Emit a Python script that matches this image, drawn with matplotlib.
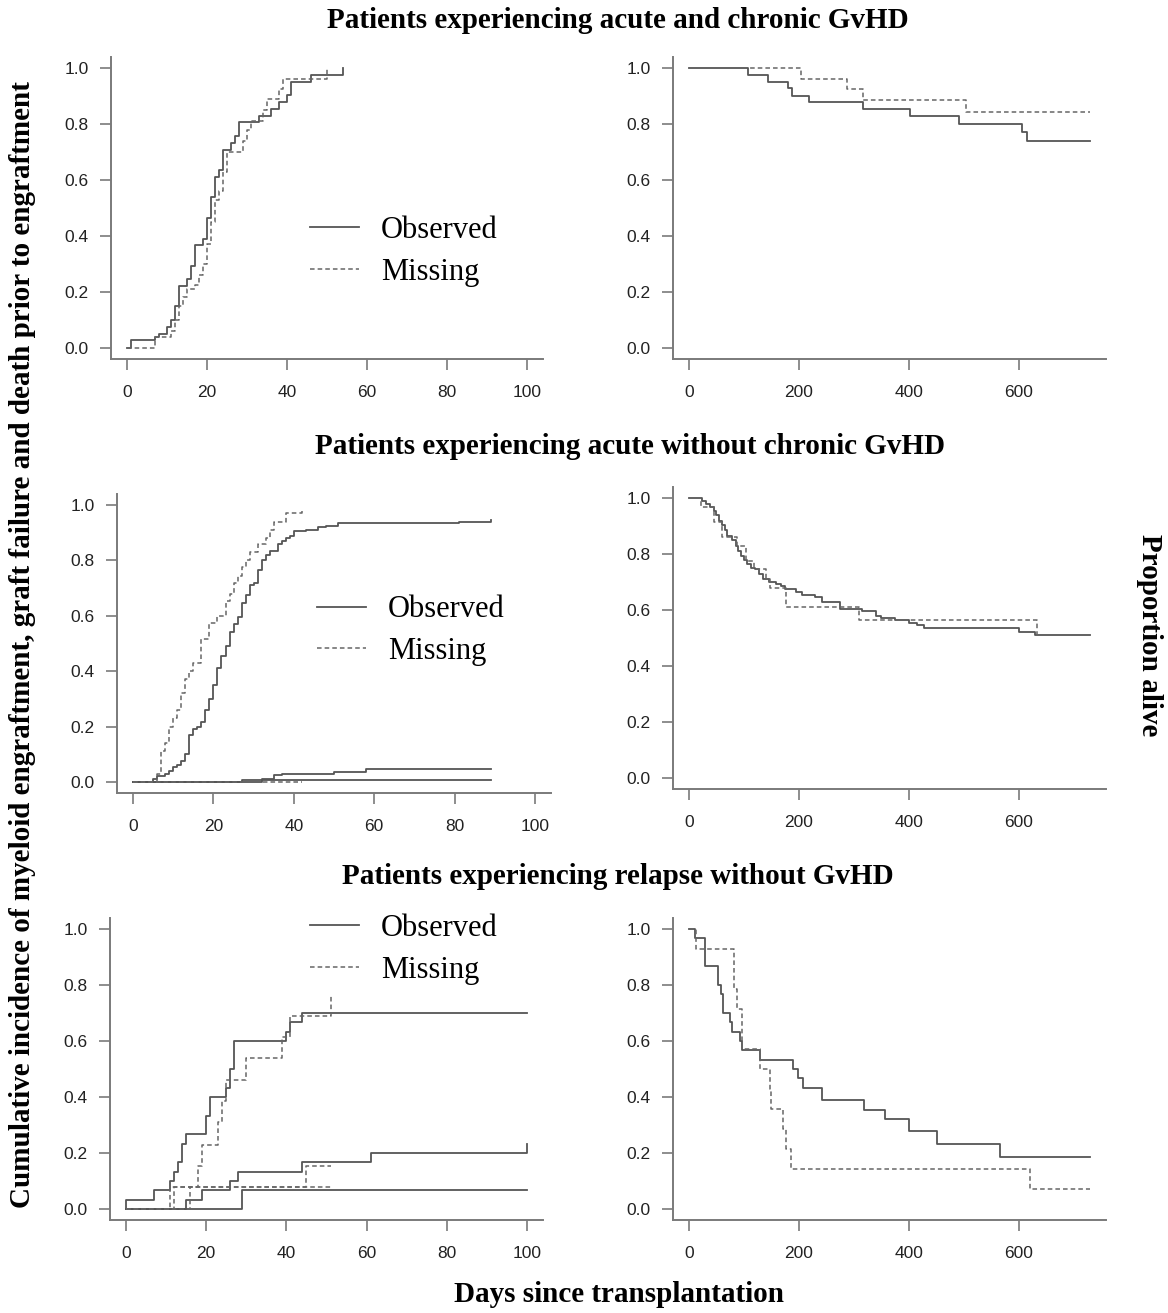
import matplotlib
matplotlib.use("Agg")
import matplotlib.pyplot as plt

# --- data (days, cumulative incidence / survival) ---

# acute and chronic GvHD: engraftment
t1_obs = [0, 1, 7, 8, 10, 11, 12, 13, 15, 16, 17, 19, 20, 21, 22, 23, 24, 26, 27, 28, 33, 36, 38, 40, 41, 46, 54]
y1_obs = [0, 0.027, 0.04, 0.05, 0.075, 0.10, 0.149, 0.22, 0.245, 0.294, 0.369, 0.39, 0.464, 0.538, 0.611,
          0.635, 0.708, 0.732, 0.756, 0.806, 0.83, 0.854, 0.878, 0.903, 0.952, 0.976, 1.0]
t1_mis = [0, 7, 11, 12, 13, 14, 15, 17, 18, 19, 20, 21, 22, 23, 24, 25, 29, 30, 31, 34, 35, 38, 39, 50]
y1_mis = [0, 0.04, 0.06, 0.10, 0.15, 0.18, 0.21, 0.225, 0.26, 0.30, 0.37, 0.45, 0.53, 0.56, 0.63, 0.70,
          0.74, 0.78, 0.81, 0.85, 0.89, 0.925, 0.96, 1.0]

# acute and chronic GvHD: survival
t2_obs = [0, 108, 144, 180, 188, 218, 316, 402, 491, 607, 616, 730]
y2_obs = [1, 0.976, 0.952, 0.93, 0.90, 0.88, 0.855, 0.83, 0.80, 0.77, 0.74, 0.74]
t2_mis = [0, 203, 288, 317, 505, 730]
y2_mis = [1, 0.96, 0.925, 0.887, 0.845, 0.845]

# acute without chronic GvHD: engraftment + competing events
t3_obs = [0, 5, 6, 8, 9, 10, 11, 12, 13, 14, 15, 16, 17, 18, 19, 20, 21, 22, 23, 24, 25, 26, 27, 28, 29,
          30, 31, 32, 33, 34, 36, 37, 38, 39, 40, 43, 46, 48, 51, 81, 89]
y3_obs = [0, 0.01, 0.02, 0.03, 0.04, 0.055, 0.06, 0.075, 0.10, 0.17, 0.19, 0.20, 0.215, 0.26, 0.30, 0.35,
          0.41, 0.455, 0.49, 0.54, 0.57, 0.595, 0.645, 0.675, 0.71, 0.72, 0.765, 0.80, 0.82, 0.835, 0.86,
          0.87, 0.88, 0.89, 0.905, 0.91, 0.92, 0.925, 0.935, 0.94, 0.945]
t3_mis = [0, 6, 7, 8, 9, 10, 11, 12, 13, 14, 15, 17, 19, 21, 23, 24, 25, 26, 27, 28, 29, 31, 33, 34, 35, 38, 42]
y3_mis = [0, 0.03, 0.11, 0.14, 0.20, 0.23, 0.26, 0.32, 0.37, 0.40, 0.43, 0.515, 0.575, 0.60, 0.655, 0.68,
          0.72, 0.745, 0.775, 0.80, 0.83, 0.86, 0.88, 0.91, 0.94, 0.97, 0.99]
t3_gf = [0, 27, 89]
y3_gf = [0, 0.007, 0.007]
t3_death = [0, 32, 35, 37, 50, 58, 89]
y3_death = [0, 0.012, 0.025, 0.03, 0.037, 0.045, 0.045]
t3_mis_c = [0, 42]
y3_mis_c = [0, 0]

# acute without chronic GvHD: survival
t4_obs = [0, 24, 30, 38, 45, 50, 55, 60, 65, 70, 78, 85, 90, 95, 100, 106, 112, 120, 128, 135, 145, 158,
          168, 175, 195, 205, 230, 243, 275, 315, 340, 350, 375, 400, 415, 428, 600, 630, 730]
y4_obs = [1, 0.99, 0.98, 0.97, 0.955, 0.94, 0.92, 0.905, 0.885, 0.865, 0.85, 0.83, 0.81, 0.795, 0.78,
          0.765, 0.75, 0.745, 0.73, 0.71, 0.70, 0.693, 0.685, 0.675, 0.665, 0.655, 0.645, 0.63, 0.605,
          0.595, 0.58, 0.57, 0.565, 0.555, 0.545, 0.535, 0.52, 0.51, 0.51]
t4_mis = [0, 22, 45, 60, 87, 103, 118, 140, 148, 176, 309, 633, 730]
y4_mis = [1, 0.97, 0.915, 0.86, 0.83, 0.775, 0.745, 0.71, 0.68, 0.61, 0.565, 0.512, 0.512]

# relapse without GvHD: engraftment + competing events
t5_obs = [0, 0, 7, 11, 12, 13, 14, 15, 20, 21, 25, 26, 27, 40, 41, 44, 100]
y5_obs = [0, 0.033, 0.067, 0.10, 0.133, 0.167, 0.233, 0.267, 0.333, 0.40, 0.433, 0.50, 0.60, 0.633,
          0.667, 0.70, 0.70]
t5_c1 = [0, 15, 19, 26, 28, 44, 61, 100, 100]
y5_c1 = [0, 0.033, 0.067, 0.10, 0.133, 0.167, 0.20, 0.20, 0.233]
t5_c2 = [0, 29, 100]
y5_c2 = [0, 0.067, 0.067]
t5_mis = [0, 11, 18, 19, 23, 24, 25, 30, 39, 41, 51]
y5_mis = [0, 0.077, 0.154, 0.23, 0.31, 0.385, 0.46, 0.54, 0.615, 0.69, 0.76]
t5_mc1 = [0, 12, 45, 51]
y5_mc1 = [0, 0.077, 0.154, 0.154]
t5_mc2 = [0, 16, 51]
y5_mc2 = [0, 0.077, 0.077]

# relapse without GvHD: survival
t6_obs = [0, 11, 29, 53, 58, 62, 75, 79, 93, 97, 129, 190, 199, 208, 243, 319, 356, 401, 451, 567, 730]
y6_obs = [1, 0.967, 0.867, 0.80, 0.767, 0.70, 0.667, 0.633, 0.60, 0.567, 0.533, 0.50, 0.467, 0.433,
          0.39, 0.355, 0.32, 0.28, 0.233, 0.186, 0.186]
t6_mis = [0, 13, 81, 87, 96, 129, 147, 150, 171, 176, 185, 620, 730]
y6_mis = [1, 0.929, 0.786, 0.714, 0.571, 0.50, 0.429, 0.357, 0.286, 0.214, 0.143, 0.071, 0.071]

row_titles = ["Patients experiencing acute and chronic GvHD",
              "Patients experiencing acute without chronic GvHD",
              "Patients experiencing relapse without GvHD"]
legend_labels = ["Observed", "Missing"]

W, H = 1168, 1313
SERIF = ["Liberation Serif", "DejaVu Serif"]
SOLID_C = "#555555"
DASH_C = "#666666"
AX_C = "#7a7a7a"

fig = plt.figure(figsize=(W / 100, H / 100), dpi=100)


def make_axes(left, right, top, bottom):
    # pixel box -> figure fraction
    return fig.add_axes([left / W, 1 - bottom / H, (right - left) / W, (bottom - top) / H])


def style(ax, xmax, xticks):
    ax.set_xlim(-0.04 * xmax, 1.04 * xmax)
    ax.set_ylim(-0.04, 1.04)
    ax.set_xticks(xticks)
    ax.set_yticks([0, 0.2, 0.4, 0.6, 0.8, 1.0])
    ax.set_yticklabels(["0.0", "0.2", "0.4", "0.6", "0.8", "1.0"])
    for s in ["top", "right"]:
        ax.spines[s].set_visible(False)
    for s in ["left", "bottom"]:
        ax.spines[s].set_color(AX_C)
        ax.spines[s].set_linewidth(1.4)
    ax.tick_params(axis="both", colors=AX_C, length=8, width=1.2, labelcolor="#222222",
                   labelsize=12.5)
    ax.tick_params(axis="x", pad=11)
    ax.tick_params(axis="y", pad=8)
    for lab in ax.get_xticklabels() + ax.get_yticklabels():
        lab.set_fontfamily("Liberation Sans")


def solid(ax, t, y):
    return ax.step(t, y, where="post", color=SOLID_C, lw=1.3)[0]


def dashed(ax, t, y):
    return ax.step(t, y, where="post", color=DASH_C, lw=1.1, linestyle=(0, (3, 2)))[0]


def add_legend(ax, h1, h2, x, y):
    ax.legend([h1, h2], legend_labels, loc="center left", bbox_to_anchor=(x, y), frameon=False,
              prop={"family": SERIF, "size": 22}, handlelength=1.6, handletextpad=0.72,
              labelspacing=0.42, borderpad=0, borderaxespad=0)


# row 1
ax1 = make_axes(111, 543, 57, 359)
h_o = solid(ax1, t1_obs, y1_obs)
h_m = dashed(ax1, t1_mis, y1_mis)
style(ax1, 100, [0, 20, 40, 60, 80, 100])
add_legend(ax1, h_o, h_m, 0.461, 0.357)

ax2 = make_axes(673, 1106, 57, 359)
solid(ax2, t2_obs, y2_obs)
dashed(ax2, t2_mis, y2_mis)
style(ax2, 730, [0, 200, 400, 600])

# row 2
ax3 = make_axes(117, 551, 494, 793)
h_o = solid(ax3, t3_obs, y3_obs)
solid(ax3, t3_gf, y3_gf)
solid(ax3, t3_death, y3_death)
h_m = dashed(ax3, t3_mis, y3_mis)
dashed(ax3, t3_mis_c, y3_mis_c)
style(ax3, 100, [0, 20, 40, 60, 80, 100])
add_legend(ax3, h_o, h_m, 0.461, 0.543)

ax4 = make_axes(673, 1106, 487, 789)
solid(ax4, t4_obs, y4_obs)
dashed(ax4, t4_mis, y4_mis)
style(ax4, 730, [0, 200, 400, 600])

# row 3
ax5 = make_axes(110, 543, 918, 1220)
h_o = solid(ax5, t5_obs, y5_obs)
solid(ax5, t5_c1, y5_c1)
solid(ax5, t5_c2, y5_c2)
h_m = dashed(ax5, t5_mis, y5_mis)
dashed(ax5, t5_mc1, y5_mc1)
dashed(ax5, t5_mc2, y5_mc2)
style(ax5, 100, [0, 20, 40, 60, 80, 100])
add_legend(ax5, h_o, h_m, 0.462, 0.897)

ax6 = make_axes(673, 1106, 918, 1220)
solid(ax6, t6_obs, y6_obs)
dashed(ax6, t6_mis, y6_mis)
style(ax6, 730, [0, 200, 400, 600])

# titles and shared labels
title_kw = dict(fontfamily=SERIF, fontweight="bold", fontsize=21, ha="center", va="center")
fig.text(618 / W, 1 - 20 / H, row_titles[0], **title_kw)
fig.text(630 / W, 1 - 447 / H, row_titles[1], **title_kw)
fig.text(618 / W, 1 - 876 / H, row_titles[2], **title_kw)
fig.text(619 / W, 1 - 1295 / H, "Days since transplantation", **title_kw)
fig.text(23 / W, 1 - 645 / H,
         "Cumulative incidence of myeloid engraftment, graft failure and death prior to engraftment",
         rotation=90, **title_kw)
fig.text(1150 / W, 1 - 635 / H, "Proportion alive", rotation=-90, **title_kw)

fig.savefig("out.png", dpi=100)
